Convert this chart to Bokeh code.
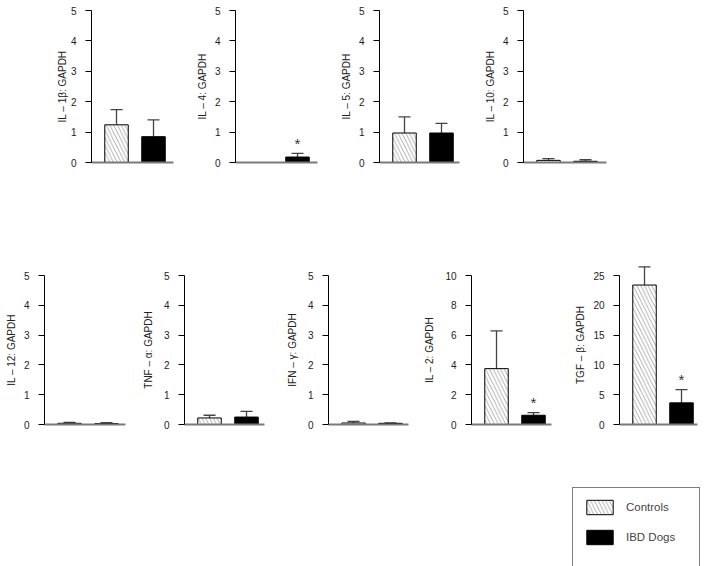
from bokeh.plotting import figure
from bokeh.models import (Range1d, FixedTicker, ColumnDataSource, Whisker, TeeHead,
                          Legend, LegendItem, Spacer)
from bokeh.layouts import row, column
from bokeh.core.properties import value
from bokeh.embed import file_html
from bokeh.resources import INLINE

# ---------------- data ----------------
groups = ["Controls", "IBD Dogs"]
cytokines = ["IL – 1β", "IL – 4", "IL – 5", "IL – 10",
             "IL – 12", "TNF – α", "IFN – γ", "IL – 2", "TGF – β"]
controls_mean = [1.24, 0.00, 0.97, 0.07, 0.04, 0.22, 0.05, 3.75, 23.4]
controls_upper = [1.74, 0.00, 1.50, 0.13, 0.07, 0.31, 0.10, 6.29, 26.45]
ibd_mean = [0.85, 0.18, 0.97, 0.04, 0.03, 0.25, 0.04, 0.62, 3.63]
ibd_upper = [1.40, 0.30, 1.29, 0.09, 0.06, 0.44, 0.05, 0.80, 5.86]
significant = [False, True, False, False, False, False, False, True, True]
y_max = [5, 5, 5, 5, 5, 5, 5, 10, 25]
y_step = [1, 1, 1, 1, 1, 1, 1, 2, 5]

FONT = "Liberation Sans"
HATCH = "\\"
HATCH_STYLE = dict(hatch_pattern=HATCH, hatch_color="#6a6a6a", hatch_scale=7.5,
                   hatch_weight=0.55)

# ---------------- layout parameters ----------------
# (left border, frame width, figure width, axis-label standoff)
row1_geom = [(50, 82, 144, 0), (50, 82, 144, 4), (50, 80, 144, 4), (50, 83, 143, 4)]
row2_geom = [(44, 81, 134, 4), (50, 80, 144, 7), (50, 80, 138, 7), (55, 80, 148, 7), (55, 78, 140, 4)]
PX_PER_UNIT = 37.0
X0 = 0.324
TOP_GAP = 10


def make_panel(i, left, fw, width, standoff, axis_h, height):
    xs = [1, 2]
    means = [controls_mean[i], ibd_mean[i]]
    uppers = [controls_upper[i], ibd_upper[i]]

    # extend the frame upward only when an error bar rises above the axis top
    over = max(uppers) - y_max[i]
    pad = 0
    if over > 0:
        pad = min(TOP_GAP, int(over / y_max[i] * axis_h) + 4)
    fh = axis_h + pad
    x_range = Range1d(X0, X0 + fw / PX_PER_UNIT)
    y_range = Range1d(0, y_max[i] * fh / axis_h)
    p = figure(width=width, height=height, x_range=x_range, y_range=y_range,
               min_border_left=left, min_border_right=width - left - fw,
               min_border_top=TOP_GAP - pad, min_border_bottom=height - TOP_GAP - axis_h,
               toolbar_location=None, output_backend="svg", title=None)
    p.outline_line_color = None
    p.grid.visible = False
    p.background_fill_color = "white"

    if means[0] > 0:
        p.vbar(x=[xs[0]], top=[means[0]], bottom=0, width=0.635,
               fill_color="white", line_color="black", line_width=1, **HATCH_STYLE)
    if means[1] > 0:
        p.vbar(x=[xs[1]], top=[means[1]], bottom=0, width=0.635,
               fill_color="black", line_color="black", line_width=1)

    bx, bl, bu = [], [], []
    for x, m, u in zip(xs, means, uppers):
        if u > m:
            bx.append(x); bl.append(m); bu.append(u)
    if bx:
        src = ColumnDataSource(dict(base=bx, lower=bl, upper=bu))
        w = Whisker(source=src, base="base", lower="lower", upper="upper",
                    dimension="height", line_color="#444444", line_width=1.3,
                    lower_head=None,
                    upper_head=TeeHead(size=12, line_color="#444444", line_width=1.3))
        p.add_layout(w)

    if significant[i]:
        p.text(x=[xs[1]], y=[uppers[1]], text=["*"], text_font=value(FONT),
               text_font_size="15px", text_align="center", text_baseline="middle",
               y_offset=-10, text_color="#333333")

    ya = p.yaxis[0]
    ya.bounds = (0, y_max[i])
    ya.ticker = FixedTicker(ticks=list(range(0, y_max[i] + 1, y_step[i])))
    ya.axis_label = cytokines[i] + ": GAPDH"
    ya.axis_label_text_font = FONT
    ya.axis_label_text_font_size = "10px"
    ya.axis_label_text_font_style = "normal"
    ya.axis_label_text_color = "#222222"
    ya.axis_label_standoff = standoff
    ya.major_label_text_font = FONT
    ya.major_label_text_font_size = "10px"
    ya.major_label_text_color = "#222222"
    ya.major_label_standoff = 9
    ya.major_tick_out = 6
    ya.major_tick_in = 0
    ya.minor_tick_line_color = None
    ya.axis_line_color = "black"
    ya.major_tick_line_color = "black"

    xa = p.xaxis[0]
    xa.ticker = FixedTicker(ticks=[])
    xa.major_label_text_font_size = "0px"
    xa.major_tick_line_color = None
    xa.minor_tick_line_color = None
    xa.axis_line_color = "#7a7a7a"
    xa.axis_line_width = 2
    return p


ROW1_H = 265
ROW2_H = 222
LEG_H = 79

row1 = [Spacer(width=41, height=ROW1_H)]
for k, (l, fw, w, s) in enumerate(row1_geom):
    row1.append(make_panel(k, l, fw, w, s, axis_h=152, height=ROW1_H))

row2 = []
for k, (l, fw, w, s) in enumerate(row2_geom):
    # each panel in its own column so the frames are not aligned across the row
    row2.append(column(make_panel(4 + k, l, fw, w, s, axis_h=149, height=ROW2_H)))

# ---------------- legend ----------------
pl = figure(width=132, height=LEG_H, x_range=Range1d(0, 1), y_range=Range1d(0, 1),
            min_border_left=0, min_border_right=0, min_border_top=0, min_border_bottom=0,
            x_axis_type=None, y_axis_type=None, toolbar_location=None,
            output_backend="svg", title=None)
pl.outline_line_color = None
pl.grid.visible = False
# swatch renderers sit outside the visible range; only their legend glyphs show
r_c = pl.vbar(x=[-10], top=[0.5], width=0.5, fill_color="white", line_color="black",
              **HATCH_STYLE)
r_i = pl.vbar(x=[-10], top=[0.5], width=0.5, fill_color="black", line_color="black")
r_pad = pl.vbar(x=[-10], top=[0.5], width=0.5, fill_alpha=0, line_alpha=0)
legend = Legend(items=[LegendItem(label=groups[0], renderers=[r_c]),
                       LegendItem(label=groups[1], renderers=[r_i]),
                       LegendItem(label=" ", renderers=[r_pad])],
                location="top_left", margin=0, padding=10, spacing=12,
                glyph_width=33, glyph_height=18, label_standoff=10,
                label_width=63, label_height=18,
                label_text_font=FONT, label_text_font_size="11.5px",
                border_line_color="black", border_line_width=1,
                background_fill_color="white", background_fill_alpha=1)
pl.add_layout(legend)

row3 = [Spacer(width=572, height=LEG_H), pl]

layout = column(row(*row1), row(*row2), row(*row3))

open("out.html", "w").write(file_html(layout, INLINE))
